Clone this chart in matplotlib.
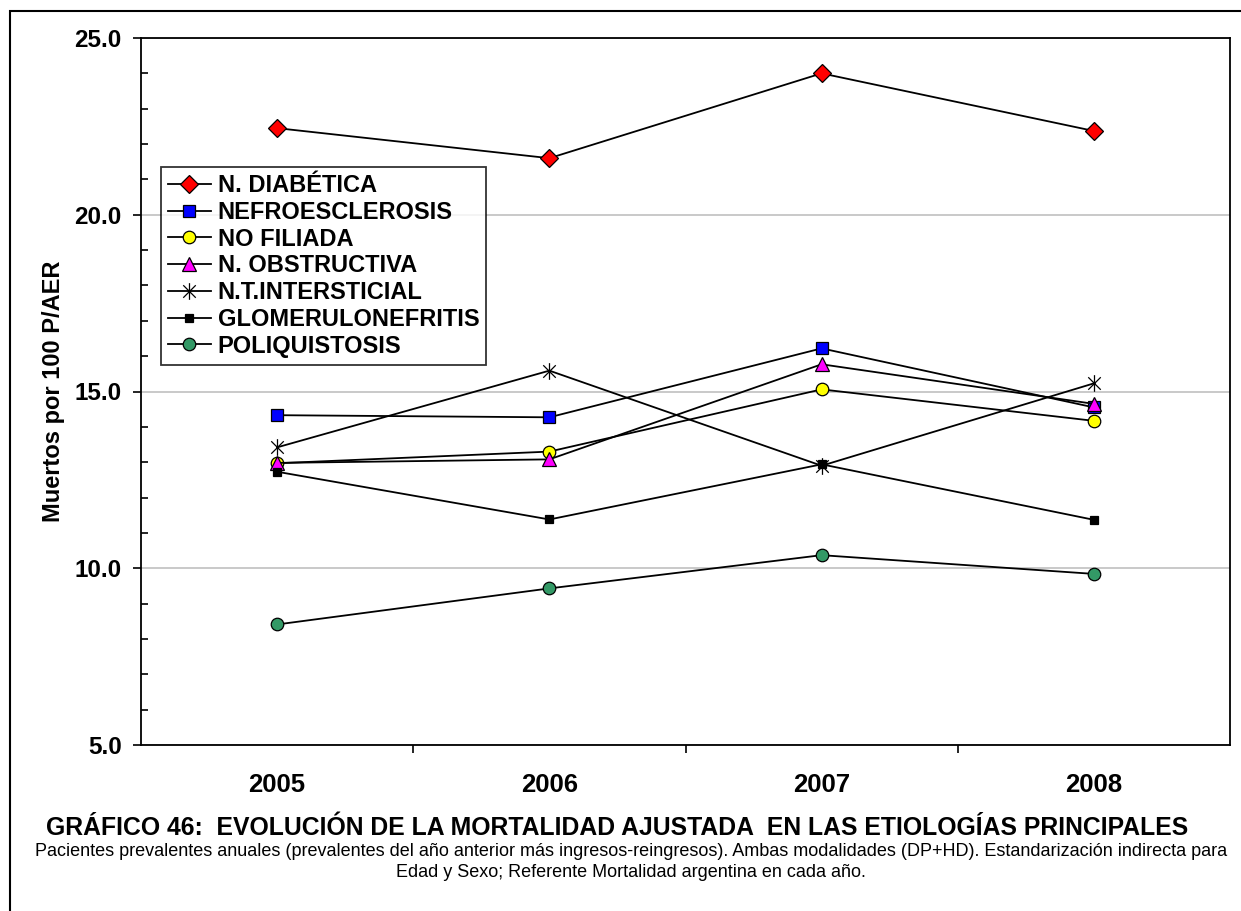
import matplotlib
matplotlib.use("Agg")
import matplotlib.pyplot as plt
from matplotlib.patches import Rectangle
from matplotlib.path import Path
from matplotlib.ticker import MultipleLocator, FixedLocator, NullFormatter

plt.rcParams['font.family'] = ['Liberation Sans', 'DejaVu Sans']

years = ['2005', '2006', '2007', '2008']
diabetica = [22.45, 21.60, 24.00, 22.37]
nefroesclerosis = [14.33, 14.27, 16.22, 14.55]
no_filiada = [12.97, 13.30, 15.06, 14.17]
obstructiva = [12.98, 13.08, 15.77, 14.65]
intersticial = [13.42, 15.59, 12.90, 15.23]
glomerulonefritis = [12.73, 11.38, 12.94, 11.37]
poliquistosis = [8.41, 9.43, 10.37, 9.84]

names = ['N. DIABÉTICA', 'NEFROESCLEROSIS', 'NO FILIADA', 'N. OBSTRUCTIVA',
         'N.T.INTERSTICIAL', 'GLOMERULONEFRITIS', 'POLIQUISTOSIS']

# asterisco tipo Excel: vertical + dos diagonales
star = Path([(0, -1), (0, 1), (-0.75, -0.75), (0.75, 0.75), (-0.75, 0.75), (0.75, -0.75)],
            [Path.MOVETO, Path.LINETO, Path.MOVETO, Path.LINETO, Path.MOVETO, Path.LINETO])

estilos = [
    dict(marker='D', ms=9, mfc='#ff0000'),
    dict(marker='s', ms=9, mfc='#0000ff'),
    dict(marker='o', ms=9, mfc='#ffff00'),
    dict(marker='^', ms=10, mfc='#ff00ff'),
    dict(marker=star, ms=12, mfc='none'),
    dict(marker='s', ms=6, mfc='#000000'),
    dict(marker='o', ms=9, mfc='#339966'),
]
series = [diabetica, nefroesclerosis, no_filiada, obstructiva,
          intersticial, glomerulonefritis, poliquistosis]

W, H = 1241, 911
fig = plt.figure(figsize=(W / 100, H / 100), dpi=100)
fig.patches.append(Rectangle((10 / W, -0.1), 1.1, 1 - 11 / H + 0.1, transform=fig.transFigure,
                             fill=False, ec='black', lw=1.5))

ax = fig.add_axes([141 / W, (H - 745) / H, (1230 - 141) / W, (745 - 38) / H])
x = range(len(years))
for vals, nom, st in zip(series, names, estilos):
    ax.plot(x, vals, color='black', lw=1.3, mec='black', mew=0.9, label=nom, **st)

ax.set_xlim(-0.5, 3.5)
ax.set_ylim(5, 25)
ax.yaxis.set_major_locator(MultipleLocator(5))
ax.yaxis.set_minor_locator(MultipleLocator(1))
ax.set_yticklabels([f'{v:.1f}' for v in ax.get_yticks()])
ax.grid(axis='y', which='major', color='#c0c0c0', lw=1.2)
ax.set_axisbelow(True)

ax.xaxis.set_major_locator(FixedLocator([0.5, 1.5, 2.5]))
ax.xaxis.set_major_formatter(NullFormatter())
ax.xaxis.set_minor_locator(FixedLocator(list(x)))
ax.set_xticklabels(years, minor=True)

ax.tick_params(axis='y', which='major', direction='out', length=6, width=1.2, pad=8,
               labelsize=17.5)
ax.tick_params(axis='y', which='minor', direction='in', length=5, width=1.2)
ax.tick_params(axis='x', which='major', direction='out', length=6, width=1.2)
ax.tick_params(axis='x', which='minor', length=0, pad=20, labelsize=18.5)
for lab in ax.get_yticklabels() + ax.get_xticklabels(minor=True):
    lab.set_fontweight('bold')
for sp in ax.spines.values():
    sp.set_linewidth(1.3)

ax.set_ylabel('Muertos por 100 P/AER', fontsize=17, fontweight='bold', labelpad=7)

leg = ax.legend(loc='upper left', bbox_to_anchor=(161 / W, 1 - 167 / H),
                bbox_transform=fig.transFigure, borderaxespad=0, fancybox=False,
                frameon=True, edgecolor='black', handlelength=1.8, handletextpad=0.3,
                labelspacing=0.16, borderpad=0.3, prop=dict(size=17, weight='bold'))
leg.get_frame().set_linewidth(1.3)

fig.text(617 / W, 1 - 828 / H,
         'GRÁFICO 46:  EVOLUCIÓN DE LA MORTALIDAD AJUSTADA  EN LAS ETIOLOGÍAS PRINCIPALES',
         ha='center', va='center', fontsize=17.8, fontweight='bold')
fig.text(631 / W, 1 - 862 / H,
         'Pacientes prevalentes anuales (prevalentes del año anterior más ingresos-reingresos). '
         'Ambas modalidades (DP+HD). Estandarización indirecta para\n'
         'Edad y Sexo; Referente Mortalidad argentina en cada año.',
         ha='center', va='center', fontsize=13, multialignment='center', linespacing=1.25)

fig.savefig('out.png', dpi=100)
